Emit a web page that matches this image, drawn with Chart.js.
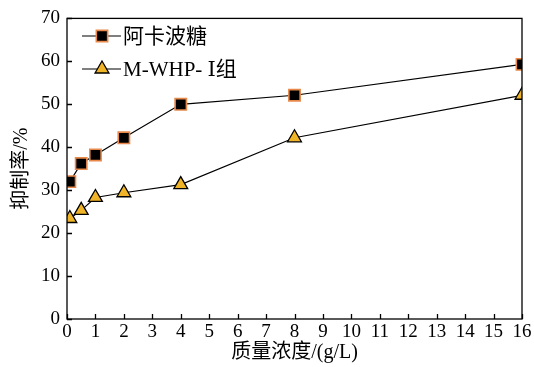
<!DOCTYPE html>
<html>
<head>
<meta charset="utf-8">
<script src="https://cdn.jsdelivr.net/npm/chart.js@4/dist/chart.umd.min.js"></script>
<style>
  html, body { margin: 0; padding: 0; background: #fff; }
  #wrap { width: 534px; height: 367px; }
</style>
</head>
<body>
<div id="wrap"><canvas id="chartYiZhi"></canvas></div>
<script>
// 数据
const concentrations = [0.1, 0.5, 1, 2, 4, 8, 16];
const acarbose = [32, 36.2, 38.2, 42.2, 50, 52.1, 59.3];
const mwhp = [23.4, 25.3, 28.3, 29.4, 31.3, 42.2, 52.1];
const seriesNames = ['阿卡波糖', 'M-WHP- Ⅰ组'];
const xTicks = [0, 1, 2, 3, 4, 5, 6, 7, 8, 9, 10, 11, 12, 13, 14, 15, 16];
const yTicks = [0, 10, 20, 30, 40, 50, 60, 70];

const FONT = "'Liberation Serif', 'DejaVu Serif', 'Noto Sans CJK SC', serif";
const ORANGE = '#E8894B';
const GOLD = '#F0B428';

function toPoints(ys) {
    return concentrations.map((x, i) => ({ x: x, y: ys[i] }));
}

// 内向刻度 + 边框
const frameTicks = {
    id: 'frameTicks',
    afterDatasetsDraw(chart) {
        const { ctx, chartArea: a, scales } = chart;
        ctx.save();
        ctx.strokeStyle = '#000';
        ctx.lineWidth = 1.3;
        ctx.strokeRect(a.left, a.top, a.right - a.left, a.bottom - a.top);
        ctx.beginPath();
        xTicks.forEach(v => {
            const px = Math.round(scales.x.getPixelForValue(v)) + 0.5;
            ctx.moveTo(px, a.bottom);
            ctx.lineTo(px, a.bottom - 5);
        });
        yTicks.forEach(v => {
            const py = Math.round(scales.y.getPixelForValue(v)) + 0.5;
            ctx.moveTo(a.left, py);
            ctx.lineTo(a.left + 5, py);
        });
        ctx.stroke();
        ctx.restore();
    }
};

// 图例：线-标记-线
const lineLegend = {
    id: 'lineLegend',
    afterDraw(chart) {
        const { ctx } = chart;
        const rows = [36, 69];
        ctx.save();
        chart.data.datasets.forEach((ds, i) => {
            const y = rows[i];
            ctx.strokeStyle = '#000';
            ctx.lineWidth = 1.2;
            ctx.beginPath();
            ctx.moveTo(82, y);
            ctx.lineTo(121, y);
            ctx.stroke();
            ctx.fillStyle = ds.pointBackgroundColor;
            ctx.strokeStyle = ds.pointBorderColor;
            ctx.lineWidth = ds.pointBorderWidth;
            Chart.helpers.drawPoint(ctx, {
                pointStyle: ds.pointStyle,
                radius: ds.pointRadius,
                borderWidth: ds.pointBorderWidth
            }, 102, y);
            ctx.fillStyle = '#000';
            ctx.font = '21px ' + FONT;
            ctx.textBaseline = 'middle';
            ctx.fillText(ds.label, 123, y + 1);
        });
        ctx.restore();
    }
};

const ctx = document.getElementById('chartYiZhi').getContext('2d');
new Chart(ctx, {
    type: 'line',
    data: {
        datasets: [{
            label: seriesNames[0],
            data: toPoints(acarbose),
            borderColor: '#000',
            borderWidth: 1.2,
            pointStyle: 'rect',
            pointRadius: 8,
            pointBorderWidth: 1.6,
            pointBackgroundColor: '#000',
            pointBorderColor: ORANGE,
            tension: 0
        }, {
            label: seriesNames[1],
            data: toPoints(mwhp),
            borderColor: '#000',
            borderWidth: 1.2,
            pointStyle: 'triangle',
            pointRadius: 8,
            pointBorderWidth: 1.3,
            pointBackgroundColor: GOLD,
            pointBorderColor: '#000',
            tension: 0
        }]
    },
    options: {
        responsive: true,
        maintainAspectRatio: false,
        animation: false,
        layout: { padding: { left: 0, right: 12, top: 17, bottom: 0 } },
        plugins: {
            legend: { display: false },
            tooltip: { enabled: false }
        },
        scales: {
            x: {
                type: 'linear',
                min: 0,
                max: 16,
                afterBuildTicks: s => { s.ticks = xTicks.map(v => ({ value: v })); },
                afterFit: s => { s.height = 48; },
                grid: { display: false, drawTicks: false },
                border: { display: false },
                ticks: { color: '#000', font: { family: FONT, size: 19 }, padding: 2, maxRotation: 0, autoSkip: false },
                title: {
                    display: true,
                    text: '质量浓度/(g/L)',
                    color: '#000',
                    font: { family: FONT, size: 20 },
                    padding: { top: 0, bottom: 2 }
                }
            },
            y: {
                min: 0,
                max: 70,
                afterBuildTicks: s => { s.ticks = yTicks.map(v => ({ value: v })); },
                afterFit: s => { s.width = 67; },
                grid: { display: false, drawTicks: false },
                border: { display: false },
                ticks: { color: '#000', font: { family: FONT, size: 19 }, padding: 7 },
                title: {
                    display: true,
                    text: '抑制率/%',
                    color: '#000',
                    font: { family: FONT, size: 20 },
                    padding: { top: 10, bottom: 0 }
                }
            }
        }
    },
    plugins: [frameTicks, lineLegend]
});
</script>
</body>
</html>
